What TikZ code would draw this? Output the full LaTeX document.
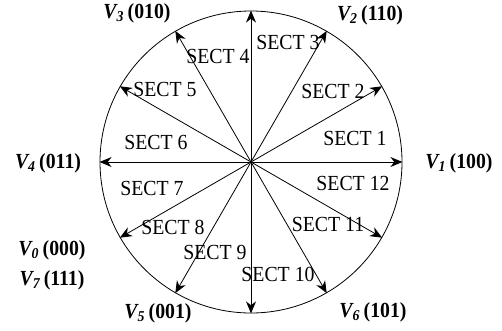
\documentclass[tikz,border=0pt]{standalone}
\usepackage{fontspec}
\setmainfont[FakeStretch=0.92]{Liberation Serif}
\usepackage{tikz}
\usetikzlibrary{arrows.meta, positioning, calc}

\newcommand{\vlab}[2]{\textbf{\textit{V\textsubscript{#1}}}\,\textbf{(#2)}}

\begin{document}
\begin{tikzpicture}[x=1pt, y=1pt,
  sect/.style={font=\fontsize{21.5}{24}\selectfont, inner sep=0pt},
  vlabel/.style={font=\fontsize{21.5}{24}\selectfont, inner sep=0pt},
  vec/.style={-{Stealth[length=12pt, width=10pt]}, line width=0.8pt}]
  \useasboundingbox (0,0) rectangle (502,330);

  % hexagon circle
  \node[circle, draw, line width=0.8pt, minimum size=302pt, inner sep=0pt] (ring) at (251,168) {};

  % twelve vectors
  \foreach \a in {0,30,...,330}
    \draw[vec] (ring.center) -- (ring.\a);

  % sector labels
  \node[sect] (s1) at (355,192) {SECT 1};
  \node[sect] (s2) at (333,239) {SECT 2};
  \node[sect] (s3) at (288,288) {SECT 3};
  \node[sect] (s4) at (218,274) {SECT 4};
  \node[sect] (s5) at (165,241) {SECT 5};
  \node[sect] (s6) at (156,188) {SECT 6};
  \node[sect] (s7) at (152,142) {SECT 7};
  \node[sect] (s8) at (173,103) {SECT 8};
  \node[sect] (s9) at (215,78) {SECT 9};
  \node[sect] (s10) at (278,56) {SECT 10};
  \node[sect] (s11) at (328,106) {SECT 11};
  \node[sect] (s12) at (353,147) {SECT 12};

  % switching state labels
  \node[vlabel] (v1) at (459,167) {\vlab{1}{100}};
  \node[vlabel] (v2) at (370,315) {\vlab{2}{110}};
  \node[vlabel] (v3) at (137,317) {\vlab{3}{010}};
  \node[vlabel] (v4) at (48,167) {\vlab{4}{011}};
  \node[vlabel] (v0) at (52,80) {\vlab{0}{000}};
  \node[vlabel] (v7) at (52,50) {\vlab{7}{111}};
  \node[vlabel] (v5) at (158,17) {\vlab{5}{001}};
  \node[vlabel] (v6) at (373,18) {\vlab{6}{101}};
\end{tikzpicture}
\end{document}
